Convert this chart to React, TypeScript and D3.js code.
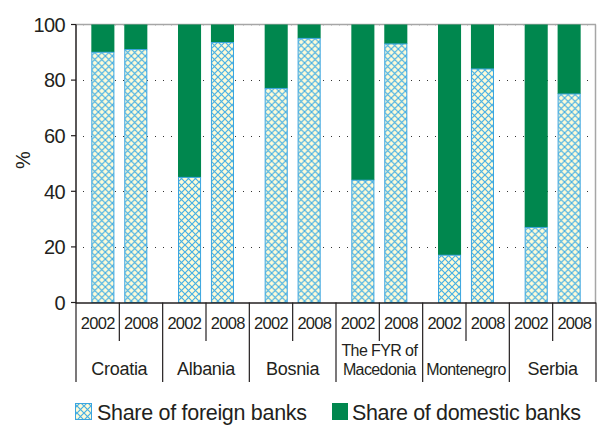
import { useEffect, useRef } from "react"
import * as d3 from "d3"

const countries = ["Croatia", "Albania", "Bosnia", "The FYR of\nMacedonia", "Montenegro", "Serbia"]
const years = ["2002", "2008"]
const foreign2002 = [90, 45, 77, 44, 17, 27]
const foreign2008 = [91, 93.5, 95, 93, 84, 75]
const yTicks = [0, 20, 40, 60, 80, 100]

const GREEN = "#00874e"
const TEXT = "#231f20"
const FONT = "'Liberation Sans', Arial, Helvetica, sans-serif"

export default function App() {
  const svgRef = useRef<SVGSVGElement>(null)

  useEffect(() => {
    if (!svgRef.current) return
    const root = d3.select(svgRef.current)
    root.selectAll("*").remove()

    const width = 600
    const height = 425
    const left = 76
    const right = 596
    const top = 24.5
    const bottom = 302.5

    root.attr("width", width).attr("height", height)

    // hatch pattern for foreign share
    const defs = root.append("defs")
    const pat = defs
      .append("pattern")
      .attr("id", "hatch")
      .attr("patternUnits", "userSpaceOnUse")
      .attr("width", 7)
      .attr("height", 7)
    pat.append("rect").attr("width", 7).attr("height", 7).attr("fill", "#fffbd6")
    pat
      .append("path")
      .attr("d", "M0,0L7,7M7,0L0,7")
      .attr("stroke", "#47b0e4")
      .attr("stroke-width", 1.2)
      .attr("fill", "none")

    const x0 = d3.scaleBand<string>().domain(countries).range([left, right])
    const bw = x0.bandwidth()
    const x1 = d3
      .scaleBand<string>()
      .domain(years)
      .range([bw / 2 - 28, bw / 2 + 28])
      .paddingInner(0.3)
    const xYear = d3.scaleBand<string>().domain(years).range([0, bw])
    const y = d3.scaleLinear().domain([0, 100]).range([bottom, top])

    const g = root.append("g")

    // top and right frame
    g.append("line")
      .attr("x1", left).attr("x2", right)
      .attr("y1", top).attr("y2", top)
      .attr("stroke", "#a6a6a6").attr("stroke-width", 1.5)
    g.append("line")
      .attr("x1", right - 0.5).attr("x2", right - 0.5)
      .attr("y1", top).attr("y2", bottom)
      .attr("stroke", "#a6a6a6").attr("stroke-width", 1.5)

    // dotted gridlines
    g.selectAll(".grid")
      .data(yTicks.filter((d) => d > 0))
      .enter()
      .append("line")
      .attr("x1", left + 7)
      .attr("x2", right - 2)
      .attr("y1", (d) => Math.round(y(d)) + 0.5)
      .attr("y2", (d) => Math.round(y(d)) + 0.5)
      .attr("stroke", (d) => (d === 100 ? "#c8c8c8" : "#333"))
      .attr("stroke-width", 1)
      .attr("stroke-dasharray", "1,7")

    const rows = countries.flatMap((c, i) => [
      { country: c, year: "2002", value: foreign2002[i] },
      { country: c, year: "2008", value: foreign2008[i] },
    ])

    const bars = g
      .selectAll(".bar")
      .data(rows)
      .enter()
      .append("g")
      .attr("transform", (d) => `translate(${x0(d.country)! + x1(d.year)!},0)`)

    bars
      .append("rect")
      .attr("y", y(100))
      .attr("width", x1.bandwidth())
      .attr("height", (d) => y(d.value) - y(100))
      .attr("fill", GREEN)
    bars
      .append("rect")
      .attr("x", 0.5)
      .attr("y", (d) => y(d.value))
      .attr("width", x1.bandwidth() - 1)
      .attr("height", (d) => y(0) - y(d.value))
      .attr("fill", "url(#hatch)")
      .attr("stroke", "#3aa5e0")
      .attr("stroke-width", 1)

    // y axis
    g.append("line")
      .attr("x1", left).attr("x2", left)
      .attr("y1", top).attr("y2", bottom + 1)
      .attr("stroke", TEXT).attr("stroke-width", 1.5)
    const ticks = g.selectAll(".ytick").data(yTicks).enter().append("g")
    ticks
      .append("line")
      .attr("x1", left - 5).attr("x2", left)
      .attr("y1", (d) => y(d)).attr("y2", (d) => y(d))
      .attr("stroke", TEXT).attr("stroke-width", 1.2)
    ticks
      .append("text")
      .attr("x", 65)
      .attr("y", (d) => y(d))
      .attr("dy", "0.36em")
      .attr("text-anchor", "end")
      .attr("font-family", FONT)
      .attr("font-size", 20)
      .attr("letter-spacing", -0.6)
      .attr("fill", TEXT)
      .text((d) => d)

    g.append("text")
      .attr("transform", `translate(30,160) rotate(-90)`)
      .attr("text-anchor", "middle")
      .attr("font-family", FONT)
      .attr("font-size", 20)
      .attr("fill", TEXT)
      .text("%")

    // category axis
    g.append("line")
      .attr("x1", left).attr("x2", right)
      .attr("y1", bottom + 0.5).attr("y2", bottom + 0.5)
      .attr("stroke", TEXT).attr("stroke-width", 1.5)
    const seps = [...countries.map((c) => x0(c)!), right]
    g.selectAll(".sep")
      .data(seps)
      .enter()
      .append("line")
      .attr("x1", (d) => d).attr("x2", (d) => d)
      .attr("y1", bottom).attr("y2", 382)
      .attr("stroke", TEXT).attr("stroke-width", 1.2)
    g.selectAll(".ysep")
      .data(countries)
      .enter()
      .append("line")
      .attr("x1", (d) => x0(d)! + bw / 2).attr("x2", (d) => x0(d)! + bw / 2)
      .attr("y1", bottom).attr("y2", 341)
      .attr("stroke", TEXT).attr("stroke-width", 1.2)

    g.selectAll(".yearLabel")
      .data(rows)
      .enter()
      .append("text")
      .attr("x", (d) => x0(d.country)! + xYear(d.year)! + xYear.bandwidth() / 2)
      .attr("y", 329)
      .attr("text-anchor", "middle")
      .attr("font-family", FONT)
      .attr("font-size", 16.5)
      .attr("letter-spacing", -0.7)
      .attr("fill", TEXT)
      .text((d) => d.year)

    countries.forEach((c) => {
      const lines = c.split("\n")
      const cx = x0(c)! + bw / 2
      const size = lines.length > 1 || c.length > 8 ? 16 : 18
      lines.forEach((ln, i) => {
        g.append("text")
          .attr("x", cx)
          .attr("y", 375 - (lines.length - 1 - i) * 19)
          .attr("text-anchor", "middle")
          .attr("font-family", FONT)
          .attr("font-size", size)
          .attr("letter-spacing", size === 16 ? -0.6 : -0.3)
          .attr("fill", TEXT)
          .text(ln)
      })
    })

    // legend
    const legend = g.append("g")
    legend
      .append("rect")
      .attr("x", 75.5).attr("y", 403.5)
      .attr("width", 16).attr("height", 16)
      .attr("fill", "url(#hatch)")
      .attr("stroke", "#3aa5e0")
    legend
      .append("text")
      .attr("x", 97).attr("y", 420)
      .attr("font-family", FONT).attr("font-size", 21.5)
      .attr("letter-spacing", -0.3)
      .attr("fill", TEXT)
      .text("Share of foreign banks")
    legend
      .append("rect")
      .attr("x", 332).attr("y", 403)
      .attr("width", 16).attr("height", 17)
      .attr("fill", GREEN)
    legend
      .append("text")
      .attr("x", 352).attr("y", 420)
      .attr("font-family", FONT).attr("font-size", 21.5)
      .attr("letter-spacing", -0.35)
      .attr("fill", TEXT)
      .text("Share of domestic banks")
  }, [])

  return <svg ref={svgRef} style={{ position: "absolute", left: 0, top: 0 }}></svg>
}
